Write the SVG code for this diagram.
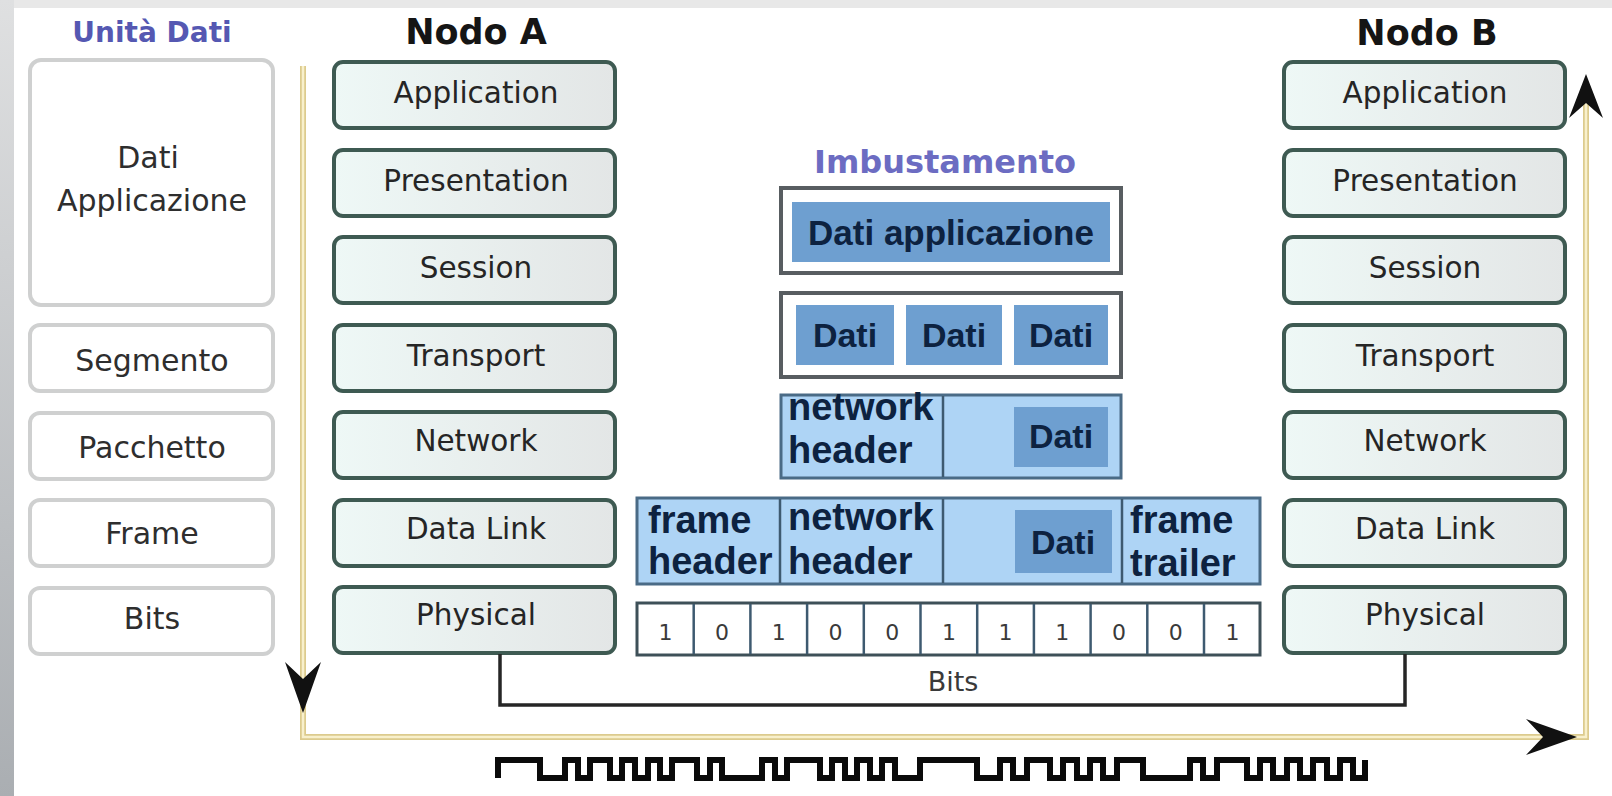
<svg xmlns="http://www.w3.org/2000/svg" xmlns:xlink="http://www.w3.org/1999/xlink" width="1612" height="796" viewBox="0 0 1612 796">
<defs>
<linearGradient id="layerFill" x1="0" y1="0" x2="1" y2="0">
<stop offset="0" stop-color="#eef8f6"/>
<stop offset="1" stop-color="#e3e6e6"/>
</linearGradient>
<linearGradient id="sideBand" x1="0" y1="0" x2="0" y2="1">
<stop offset="0" stop-color="#dfe0e1"/>
<stop offset="1" stop-color="#aaaeb2"/>
</linearGradient>
<path id="chev" d="M0,0 L-51,-18 L-34,0 L-51,18 Z" fill="#111"/>
<path id="chevS" d="M0,0 L-44,-17 L-29,0 L-44,17 Z" fill="#111"/>
</defs>
<style>
.layer{fill:url(#layerFill);stroke:#3e5a52;stroke-width:4}
.unit{fill:#ffffff;stroke:#cfd0d0;stroke-width:4}
.lt{font-family:"DejaVu Sans",sans-serif;font-size:29.5px;fill:#252525;text-anchor:middle}
.ut{font-family:"DejaVu Sans",sans-serif;font-size:30px;fill:#2e2e2e;text-anchor:middle}
.title{font-family:"DejaVu Sans",sans-serif;font-weight:bold;font-size:35px;fill:#151515;text-anchor:middle}
.blue{font-family:"DejaVu Sans",sans-serif;font-weight:bold;fill:#5558b2;text-anchor:middle}
.env{fill:#ffffff;stroke:#585d61;stroke-width:4}
.lb{fill:#aed4f5;stroke:#4a6b86;stroke-width:3}
.db{fill:#6e9fd0}
.div{stroke:#3e5a70;stroke-width:2.5}
.et{font-family:"Liberation Sans",Arial,sans-serif;font-weight:bold;fill:#0d2240}
.bitcell{fill:#ffffff;stroke:#3e5058;stroke-width:3}
.bt{font-family:"DejaVu Sans",sans-serif;font-size:22px;fill:#3a3a3a;text-anchor:middle}
.yel-o{fill:none;stroke:#dccb8e;stroke-width:6}
.yel-i{fill:none;stroke:#f8f0cc;stroke-width:2.5}
.conn{fill:none;stroke:#262626;stroke-width:3.5}
.wave{fill:none;stroke:#0a0a0a;stroke-width:6;stroke-linejoin:miter}
</style>

<rect x="0" y="0" width="1612" height="796" fill="#ffffff"/>
<rect x="0" y="0" width="1612" height="8" fill="#e8e8e8"/>
<rect x="0" y="0" width="14" height="796" fill="url(#sideBand)"/>

<!-- Unità Dati column -->
<g id="unita-dati-title"><text class="blue" x="152" y="42" font-size="28">Unità Dati</text></g>
<g id="unit-dati-applicazione">
<rect class="unit" x="30" y="60" width="243" height="245" rx="11"/>
<text class="ut" x="148" y="168">Dati</text>
<text class="ut" x="152" y="211">Applicazione</text>
</g>
<g id="unit-segmento"><rect class="unit" x="30" y="325" width="243" height="66" rx="10"/><text class="ut" x="152" y="371">Segmento</text></g>
<g id="unit-pacchetto"><rect class="unit" x="30" y="413" width="243" height="66" rx="10"/><text class="ut" x="152" y="458">Pacchetto</text></g>
<g id="unit-frame"><rect class="unit" x="30" y="500" width="243" height="66" rx="10"/><text class="ut" x="152" y="544">Frame</text></g>
<g id="unit-bits"><rect class="unit" x="30" y="588" width="243" height="66" rx="10"/><text class="ut" x="152" y="629">Bits</text></g>

<!-- Nodo A -->
<g id="nodo-a-title"><text class="title" x="476" y="44">Nodo A</text></g>
<g id="a-application"><rect class="layer" x="334" y="62" width="281" height="66" rx="9"/><text class="lt" x="476" y="103">Application</text></g>
<g id="a-presentation"><rect class="layer" x="334" y="150" width="281" height="66" rx="9"/><text class="lt" x="476" y="191">Presentation</text></g>
<g id="a-session"><rect class="layer" x="334" y="237" width="281" height="66" rx="9"/><text class="lt" x="476" y="278">Session</text></g>
<g id="a-transport"><rect class="layer" x="334" y="325" width="281" height="66" rx="9"/><text class="lt" x="476" y="366">Transport</text></g>
<g id="a-network"><rect class="layer" x="334" y="412" width="281" height="66" rx="9"/><text class="lt" x="476" y="451">Network</text></g>
<g id="a-datalink"><rect class="layer" x="334" y="500" width="281" height="66" rx="9"/><text class="lt" x="476" y="539">Data Link</text></g>
<g id="a-physical"><rect class="layer" x="334" y="587" width="281" height="66" rx="9"/><text class="lt" x="476" y="625">Physical</text></g>

<!-- Nodo B -->
<g id="nodo-b-title"><text class="title" x="1427" y="45">Nodo B</text></g>
<g id="b-application"><rect class="layer" x="1284" y="62" width="281" height="66" rx="9"/><text class="lt" x="1425" y="103">Application</text></g>
<g id="b-presentation"><rect class="layer" x="1284" y="150" width="281" height="66" rx="9"/><text class="lt" x="1425" y="191">Presentation</text></g>
<g id="b-session"><rect class="layer" x="1284" y="237" width="281" height="66" rx="9"/><text class="lt" x="1425" y="278">Session</text></g>
<g id="b-transport"><rect class="layer" x="1284" y="325" width="281" height="66" rx="9"/><text class="lt" x="1425" y="366">Transport</text></g>
<g id="b-network"><rect class="layer" x="1284" y="412" width="281" height="66" rx="9"/><text class="lt" x="1425" y="451">Network</text></g>
<g id="b-datalink"><rect class="layer" x="1284" y="500" width="281" height="66" rx="9"/><text class="lt" x="1425" y="539">Data Link</text></g>
<g id="b-physical"><rect class="layer" x="1284" y="587" width="281" height="66" rx="9"/><text class="lt" x="1425" y="625">Physical</text></g>

<!-- Imbustamento -->
<g id="imbustamento-title"><text class="blue" x="945" y="173" font-size="32" style="fill:#6c6cc2">Imbustamento</text></g>

<g id="env-applicazione">
<rect class="env" x="781" y="188" width="340" height="85"/>
<rect class="db" x="792" y="202" width="318" height="60"/>
<text class="et" x="951" y="245" font-size="35" text-anchor="middle">Dati applicazione</text>
</g>

<g id="env-segmenti">
<rect class="env" x="781" y="293" width="340" height="84"/>
<rect class="db" x="796" y="305" width="98" height="60"/>
<rect class="db" x="906" y="305" width="96" height="60"/>
<rect class="db" x="1014" y="305" width="94" height="60"/>
<text class="et" x="845" y="347" font-size="34" text-anchor="middle">Dati</text>
<text class="et" x="954" y="347" font-size="34" text-anchor="middle">Dati</text>
<text class="et" x="1061" y="347" font-size="34" text-anchor="middle">Dati</text>
</g>

<g id="env-pacchetto">
<rect class="lb" x="781" y="395" width="340" height="83"/>
<line class="div" x1="943" y1="396" x2="943" y2="477"/>
<rect class="db" x="1014" y="407" width="94" height="60"/>
<text class="et" x="788" y="420" font-size="38">network</text>
<text class="et" x="788" y="463" font-size="38">header</text>
<text class="et" x="1061" y="448" font-size="34" text-anchor="middle">Dati</text>
</g>

<g id="env-frame">
<rect class="lb" x="637" y="498" width="623" height="86"/>
<line class="div" x1="780" y1="499" x2="780" y2="583"/>
<line class="div" x1="943" y1="499" x2="943" y2="583"/>
<line class="div" x1="1122" y1="499" x2="1122" y2="583"/>
<rect class="db" x="1015" y="510" width="97" height="63"/>
<text class="et" x="648" y="533" font-size="38">frame</text>
<text class="et" x="648" y="574" font-size="38">header</text>
<text class="et" x="788" y="530" font-size="38">network</text>
<text class="et" x="788" y="574" font-size="38">header</text>
<text class="et" x="1063" y="554" font-size="34" text-anchor="middle">Dati</text>
<text class="et" x="1130" y="533" font-size="38">frame</text>
<text class="et" x="1130" y="576" font-size="38">trailer</text>
</g>

<g id="env-bits">
<rect class="bitcell" x="637" y="603" width="623" height="52"/>
<g class="div">
<line x1="693.7" y1="604" x2="693.7" y2="654"/>
<line x1="750.4" y1="604" x2="750.4" y2="654"/>
<line x1="807.1" y1="604" x2="807.1" y2="654"/>
<line x1="863.8" y1="604" x2="863.8" y2="654"/>
<line x1="920.5" y1="604" x2="920.5" y2="654"/>
<line x1="977.2" y1="604" x2="977.2" y2="654"/>
<line x1="1033.9" y1="604" x2="1033.9" y2="654"/>
<line x1="1090.6" y1="604" x2="1090.6" y2="654"/>
<line x1="1147.3" y1="604" x2="1147.3" y2="654"/>
<line x1="1204" y1="604" x2="1204" y2="654"/>
</g>
<text class="bt" x="665.4" y="640">1</text>
<text class="bt" x="722.1" y="640">0</text>
<text class="bt" x="778.8" y="640">1</text>
<text class="bt" x="835.5" y="640">0</text>
<text class="bt" x="892.2" y="640">0</text>
<text class="bt" x="948.9" y="640">1</text>
<text class="bt" x="1005.6" y="640">1</text>
<text class="bt" x="1062.3" y="640">1</text>
<text class="bt" x="1119" y="640">0</text>
<text class="bt" x="1175.7" y="640">0</text>
<text class="bt" x="1232.4" y="640">1</text>
</g>

<!-- connectors -->
<g id="connectors">
<path class="yel-o" d="M303,66 V737 H1586 V100"/>
<path class="yel-i" d="M303,66 V737 H1586 V100"/>
<use xlink:href="#chev" transform="translate(303,713) rotate(90)"/>
<use xlink:href="#chev" transform="translate(1577,737)"/>
<use xlink:href="#chevS" transform="translate(1586,74) rotate(-90)"/>
<path class="conn" d="M500,654 V705 H1405 V654"/>
<text class="bt" x="953" y="691" style="font-size:27px">Bits</text>
</g>

<g id="signal">
<path class="wave" d="M498,778 V760 H540 V778 H565 V760 H578 V778 H590 V760 H610 V778 H622 V760 H635 V778 H648 V760 H660 V778 H672 V760 H697 V778 H710 V760 H722 V778 H762 V760 H775 V778 H787 V760 H820 V778 H832 V760 H845 V778 H857 V760 H870 V778 H882 V760 H895 V778 H920 V760 H977 V778 H1000 V760 H1013 V778 H1027 V760 H1050 V778 H1063 V760 H1077 V778 H1090 V760 H1103 V778 H1117 V760 H1143 V778 H1190 V760 H1203 V778 H1217 V760 H1247 V778 H1260 V760 H1273 V778 H1287 V760 H1300 V778 H1313 V760 H1327 V778 H1340 V760 H1353 V778 H1365 V760"/>
</g>
</svg>
